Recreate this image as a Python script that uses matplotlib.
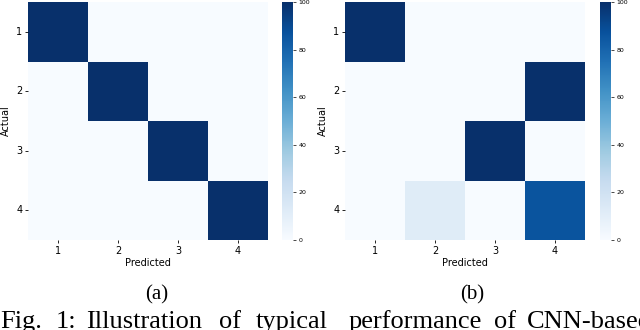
import numpy as np
import matplotlib
matplotlib.use("Agg")
import matplotlib.pyplot as plt
import seaborn as sns

labels = ["1", "2", "3", "4"]
cm_a = np.array([[100, 0, 0, 0],
                 [0, 100, 0, 0],
                 [0, 0, 100, 0],
                 [0, 0, 0, 100]])
cm_b = np.array([[100, 0, 0, 0],
                 [0, 0, 0, 100],
                 [0, 0, 100, 0],
                 [0, 12, 0, 86]])
cbar_ticks = [0, 20, 40, 60, 80, 100]
panel_names = ["(a)", "(b)"]
caption_words = ["Fig.", "1:", "Illustration", "of", "typical",
                 "performance", "of", "CNN-based"]
caption_x = [0, 56, 86, 219, 256, 349, 494, 527]

W, H = 640, 330
fig = plt.figure(figsize=(W / 100, H / 100), dpi=100)


def box(x0, y0, x1, y1):
    return [x0 / W, 1 - y1 / H, (x1 - x0) / W, (y1 - y0) / H]


def draw_panel(cm, hx, cx, name, name_x):
    ax = fig.add_axes(box(hx, 2, hx + 240, 240))
    cax = fig.add_axes(box(cx, 2, cx + 11, 240))
    sns.heatmap(cm, ax=ax, cbar_ax=cax, cmap="Blues", vmin=0, vmax=100,
                xticklabels=labels, yticklabels=labels)
    ax.tick_params(axis="both", labelsize=7, length=2, width=0.6, pad=2)
    ax.set_yticklabels(labels, rotation=0)
    ax.set_xlabel("Predicted", fontsize=7, labelpad=2)
    ax.set_ylabel("Actual", fontsize=7, labelpad=4)
    cax.set_yticks(cbar_ticks)
    cax.tick_params(labelsize=4.5, length=2, width=0.5, pad=2)
    for s in cax.spines.values():
        s.set_visible(False)
    fig.text(name_x / W, 1 - 295 / H, name, fontsize=15,
             family="Liberation Serif", ha="center", va="center")


draw_panel(cm_a, 28, 282, panel_names[0], 157)
draw_panel(cm_b, 345, 600, panel_names[1], 472)

# caption runs off the bottom edge, as in the source page crop
for word, x in zip(caption_words, caption_x):
    fig.text(x / W, 1 - 328 / H, word, fontsize=19,
             family="Liberation Serif", ha="left", va="baseline")

fig.savefig("out.png", dpi=100)
